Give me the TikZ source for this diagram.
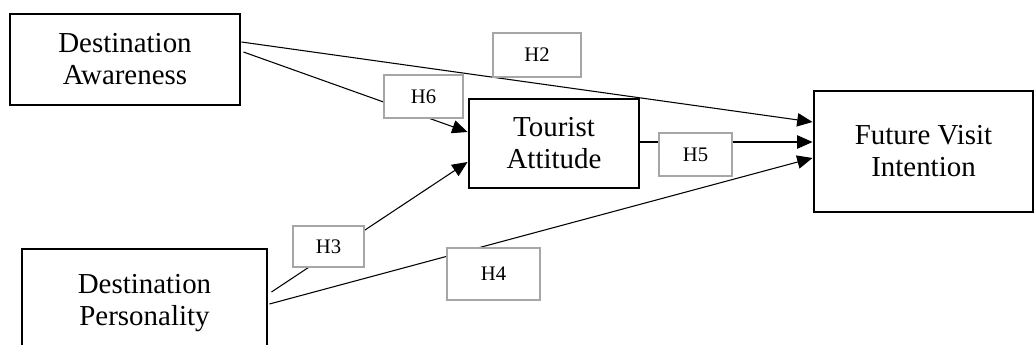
\documentclass[tikz,border=0pt]{standalone}
\usepackage{fontspec}
\setmainfont{Liberation Serif}
\usetikzlibrary{arrows.meta}
\begin{document}
\begin{tikzpicture}[x=0.75pt,y=-0.75pt,
  mainbox/.style={draw=black,line width=2.2pt,rectangle,inner sep=0pt,align=center,
    font=\fontsize{21.7}{24}\selectfont},
  hypbox/.style={draw=black!35,line width=1.9pt,fill=white,rectangle,inner sep=0pt,
    font=\fontsize{15.5}{18}\selectfont},
  link/.style={draw=black,line width=0.8pt,-{Triangle[length=11.5pt,width=10pt]}}]
\useasboundingbox (0,0) rectangle (1035,345);
\node[mainbox,minimum width=172.5pt,minimum height=68.25pt] (DA) at (125,59.5) {Destination\\Awareness};
\node[mainbox,minimum width=127.5pt,minimum height=66.75pt] (TA) at (554,143.5) {Tourist\\Attitude};
\node[mainbox,minimum width=164.25pt,minimum height=90.75pt] (FVI) at (923.5,151.5) {Future Visit\\Intention};
\node[mainbox,minimum width=183.75pt,minimum height=81pt] (DP) at (144.5,303) {Destination\\Personality};
% connectors
\draw[link] ([yshift=13.125pt]DA.east) -- ([yshift=22.125pt]FVI.west);
\draw[link] ([xshift=1.5pt,yshift=5.625pt]DA.east) -- ([yshift=8.625pt]TA.west);
\draw[link] ([xshift=2.25pt,yshift=8.25pt]DP.east) -- ([yshift=-13.875pt]TA.west);
\draw[link] ([xshift=0.75pt,yshift=-0.75pt]DP.east) -- ([yshift=-4.875pt]FVI.west);
\draw[link] ([yshift=1.125pt]TA.east) -- ([yshift=1.125pt]TA.east -| FVI.west);
% hypothesis labels
\node[hypbox,minimum width=66pt,minimum height=33pt] (H2) at (537,55) {H2};
\node[hypbox,minimum width=59.25pt,minimum height=32.25pt] (H6) at (423.5,96.5) {H6};
\node[hypbox,minimum width=54.75pt,minimum height=32.25pt] (H5) at (695.5,154.5) {H5};
\node[hypbox,minimum width=53.25pt,minimum height=30.75pt] (H3) at (328.5,246.5) {H3};
\node[hypbox,minimum width=69.75pt,minimum height=39pt] (H4) at (493.5,274) {H4};
\end{tikzpicture}
\end{document}
